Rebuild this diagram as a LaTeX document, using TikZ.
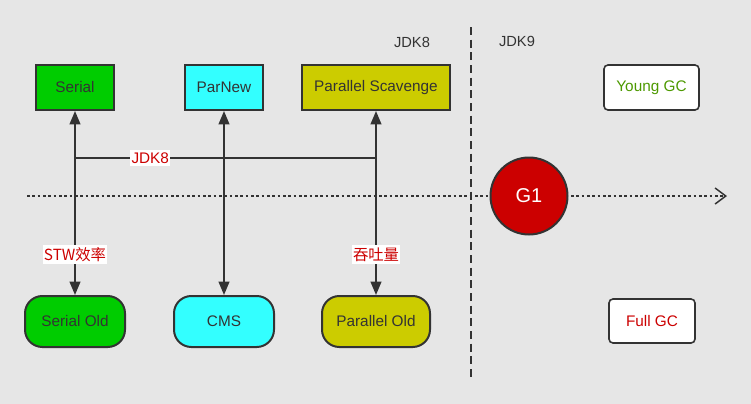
\documentclass[tikz,border=0pt]{standalone}
\usepackage{fontspec}
\setmainfont{Liberation Sans}
\newfontfamily\cjk{Noto Sans CJK SC}
\usetikzlibrary{arrows.meta}

\definecolor{bggray}{RGB}{230,230,230}
\definecolor{edgegray}{RGB}{51,51,51}
\definecolor{txtgray}{RGB}{51,51,51}
\definecolor{gcgreen}{RGB}{0,204,0}
\definecolor{gccyan}{RGB}{51,255,255}
\definecolor{gcolive}{RGB}{204,204,0}
\definecolor{gcred}{RGB}{204,0,0}
\definecolor{younggreen}{RGB}{77,153,0}

\tikzset{
    gcbox/.style={draw=edgegray, line width=1.5pt, text=txtgray,
        minimum height=33.75pt, font=\fontsize{11.5}{13}\selectfont},
    oldbox/.style={gcbox, rounded corners=13pt, minimum height=38.25pt},
    legendbox/.style={draw=edgegray, line width=1.2pt, rounded corners=3pt, fill=white,
        minimum height=33.75pt, font=\fontsize{11.5}{13}\selectfont},
    pairline/.style={draw=edgegray, line width=1.5pt,
        {Triangle[width=8pt,length=10pt]}-{Triangle[width=8pt,length=10pt]}},
    tag/.style={fill=white, text=gcred, inner xsep=1pt, inner ysep=2pt,
        font=\cjk\fontsize{11.5}{13}\selectfont}
}

\begin{document}
\begin{tikzpicture}[x=0.75pt, y=-0.75pt]
    \fill [bggray] (0,0) rectangle (751,404);

    % timeline and JDK8 / JDK9 border
    \coordinate (axisstart) at (27,196);
    \coordinate (axisend) at (727,196);
    \coordinate (bordertop) at (471,27);
    \coordinate (borderbot) at (471,380);
    \draw [edgegray, line width=1.2pt, dash pattern=on 2pt off 2pt,
        -{Straight Barb[length=8pt,width=12pt,line width=1.1pt]}] (axisstart) -- (axisend);
    \draw [edgegray, line width=1.3pt, dash pattern=on 6pt off 3.5pt] (bordertop) -- (borderbot);
    \node [text=txtgray, font=\fontsize{11}{13}\selectfont] (jdk8) at (412,42) {JDK8};
    \node [text=txtgray, font=\fontsize{11}{13}\selectfont] (jdk9) at (517,41) {JDK9};

    % young generation collectors
    \node [gcbox, fill=gcgreen, minimum width=58.5pt] (serial) at (75,87.5) {Serial};
    \node [gcbox, fill=gccyan, minimum width=58.5pt] (parnew) at (224,87.5) {ParNew};
    \node [gcbox, fill=gcolive, minimum width=111pt] (ps) at (376,87.5) {Parallel Scavenge};

    % old generation collectors
    \node [oldbox, fill=gcgreen, minimum width=75pt] (serialold) at (75,321.5) {Serial Old};
    \node [oldbox, fill=gccyan, minimum width=75pt] (cms) at (224,321.5) {CMS};
    \node [oldbox, fill=gcolive, minimum width=81pt] (parallelold) at (376,321.5) {Parallel Old};

    \draw [pairline] (serial) -- node[tag, pos=0.78] {STW效率} (serialold);
    \draw [pairline] (parnew) -- (cms);
    \draw [pairline] (ps) -- node[tag, pos=0.78] {吞吐量} (parallelold);

    \coordinate (jdkleft) at (75,158);
    \coordinate (jdkright) at (376,158);
    \draw [edgegray, line width=1.2pt] (jdkleft) -- node[tag, pos=0.25, font=\fontsize{11.5}{13}\selectfont] {JDK8} (jdkright);

    % G1 and legend
    \node [circle, draw=edgegray, line width=1.5pt, fill=gcred, text=white, minimum size=57.75pt,
        font=\fontsize{15}{18}\selectfont] (g1) at (529,196) {G1};
    \node [legendbox, text=younggreen, minimum width=71.25pt] (young) at (651.5,87.5) {Young GC};
    \node [legendbox, text=gcred, minimum width=64.5pt, minimum height=33pt] (full) at (652,321) {Full GC};
\end{tikzpicture}
\end{document}
